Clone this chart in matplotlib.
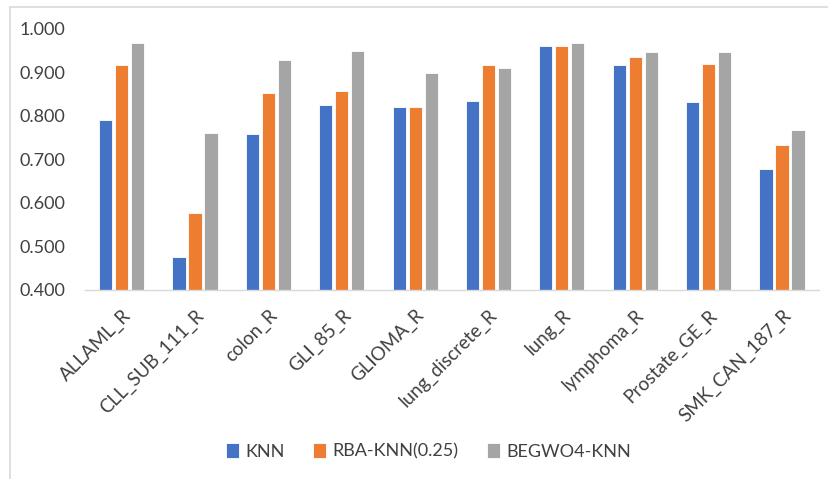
import matplotlib
matplotlib.use("Agg")
import matplotlib.pyplot as plt
import numpy as np
from matplotlib.lines import Line2D

plt.rcParams['font.family'] = ['Lato', 'DejaVu Sans']

datasets = ["ALLAML_R", "CLL_SUB_111_R", "colon_R", "GLI_85_R", "GLIOMA_R",
            "lung_discrete_R", "lung_R", "lymphoma_R", "Prostate_GE_R", "SMK_CAN_187_R"]
knn = [0.791, 0.475, 0.757, 0.824, 0.820, 0.835, 0.961, 0.916, 0.831, 0.678]
rba_knn = [0.916, 0.576, 0.853, 0.857, 0.820, 0.916, 0.961, 0.935, 0.920, 0.732]
begwo4_knn = [0.968, 0.761, 0.928, 0.949, 0.898, 0.909, 0.968, 0.946, 0.946, 0.768]
series_names = ["KNN", "RBA-KNN(0.25)", "BEGWO4-KNN"]
colors = ["#4472C4", "#ED7D31", "#A5A5A5"]
yticks = [0.4, 0.5, 0.6, 0.7, 0.8, 0.9, 1.0]

fig = plt.figure(figsize=(8.29, 4.79), dpi=100)
# chart-area border (top and left edges)
fig.lines.append(Line2D([0.012, 1.0], [0.985, 0.985], transform=fig.transFigure,
                        color="#D9D9D9", linewidth=1.2))
fig.lines.append(Line2D([0.012, 0.012], [0.0, 0.985], transform=fig.transFigure,
                        color="#D9D9D9", linewidth=1.2))
ax = fig.add_axes([0.1025, 0.395, 0.885, 0.545])

x = np.arange(len(datasets))
pitch = 0.218
width = 0.18
for i, (vals, name, c) in enumerate(zip([knn, rba_knn, begwo4_knn], series_names, colors)):
    ax.bar(x + (i - 1) * pitch, np.array(vals) - 0.4, width=width, bottom=0.4,
           color=c, edgecolor="white", linewidth=0.6, label=name, zorder=2)

ax.set_xlim(-0.5, len(datasets) - 0.5)
ax.set_ylim(0.4, 1.0)
ax.set_yticks(yticks)
ax.set_yticklabels([f"{v:.3f}" for v in yticks], fontsize=13, color="#404040")
ax.set_xticks(x)
ax.set_xticklabels(datasets, rotation=45, ha="right", rotation_mode="anchor",
                   fontsize=13.5, color="#404040")
ax.tick_params(axis="both", length=0)
ax.tick_params(axis="y", pad=14)
ax.tick_params(axis="x", pad=12)
for s in ["top", "right", "left"]:
    ax.spines[s].set_visible(False)
ax.spines["bottom"].set_color("#D9D9D9")
ax.spines["bottom"].set_linewidth(1.0)

leg = fig.legend(loc="center", bbox_to_anchor=(0.517, 0.058), ncol=3, frameon=False,
                 fontsize=13, handlelength=0.7, handleheight=0.9, handletextpad=0.35,
                 columnspacing=1.6)
for t in leg.get_texts():
    t.set_color("#404040")

fig.savefig("out.png", dpi=100)
